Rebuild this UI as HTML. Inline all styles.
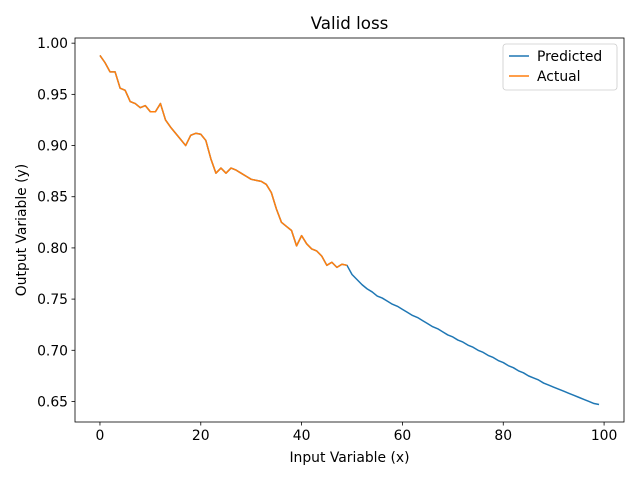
<!DOCTYPE html>
<html><head><meta charset="utf-8"><style>
body{margin:0;background:#fff}
svg text{font-family:"DejaVu Sans","Liberation Sans",sans-serif;fill:#000}
</style></head><body>
<svg id="chart" width="640" height="480">
<rect x="0" y="0" width="640" height="480" fill="#fff"/>
<text x="349.5" y="29" font-size="16.7" text-anchor="middle">Valid loss</text>
<g id="plot"></g>
<rect x="75" y="38" width="549" height="384" fill="none" stroke="#000" stroke-width="0.8"/>
<text x="349.5" y="462" font-size="13.9" text-anchor="middle">Input Variable (x)</text>
<text transform="translate(26,230) rotate(-90)" font-size="13.9" text-anchor="middle">Output Variable (y)</text>
<g>
<rect x="503" y="44" width="114" height="46" rx="3" fill="#fff" stroke="#ccc" stroke-width="0.8"/>
<line x1="509" y1="56" x2="529" y2="56" stroke="#1f77b4" stroke-width="1.5"/>
<text x="537" y="61" font-size="13.9">Predicted</text>
<line x1="509" y1="76" x2="529" y2="76" stroke="#ff7f0e" stroke-width="1.5"/>
<text x="537" y="81" font-size="13.9">Actual</text>
</g>
</svg>
<script>
const actual=[0.988,0.981,0.972,0.972,0.956,0.954,0.943,0.941,0.937,0.939,0.933,0.933,0.941,0.925,0.918,0.912,0.906,0.900,0.910,0.912,0.911,0.905,0.887,0.873,0.878,0.873,0.878,0.876,0.873,0.870,0.867,0.866,0.865,0.862,0.854,0.838,0.825,0.821,0.817,0.802,0.812,0.804,0.799,0.797,0.792,0.783,0.786,0.781,0.784,0.783];
const predictedTail=[0.774,0.769,0.764,0.760,0.757,0.753,0.751,0.748,0.745,0.743,0.740,0.737,0.734,0.732,0.729,0.726,0.723,0.721,0.718,0.715,0.713,0.710,0.708,0.705,0.703,0.700,0.698,0.695,0.693,0.690,0.688,0.685,0.683,0.680,0.678,0.675,0.673,0.671,0.668,0.666,0.664,0.662,0.660,0.658,0.656,0.654,0.652,0.650,0.648,0.647];
const predicted=actual.concat(predictedTail);
const xTicks=[0,20,40,60,80,100];
const yTicks=[0.65,0.70,0.75,0.80,0.85,0.90,0.95,1.00];
const NS="http://www.w3.org/2000/svg";
const xMin=-4.95,xMax=103.95;
const yMin=Math.min(...predicted),yMax=Math.max(...predicted);
const yLo=yMin-(yMax-yMin)*0.05,yHi=yMax+(yMax-yMin)*0.05;
const L=75,R=624,T=38,B=422;
const sx=v=>L+(v-xMin)/(xMax-xMin)*(R-L);
const sy=v=>B-(v-yLo)/(yHi-yLo)*(B-T);
const g=document.getElementById('plot');
function mk(t,a){const e=document.createElementNS(NS,t);for(const k in a)e.setAttribute(k,a[k]);g.appendChild(e);return e;}
xTicks.forEach(v=>{
 const l=mk('line',{x1:sx(v),x2:sx(v),y1:B,y2:B+3.5,stroke:'#000','stroke-width':0.8});
 
 
 const t=mk('text',{x:sx(v),y:B+18,'font-size':13.9,'text-anchor':'middle'});
 t.textContent=v;
 
 
});
yTicks.forEach(v=>{
 const l=mk('line',{x1:L-3.5,x2:L,y1:sy(v),y2:sy(v),stroke:'#000','stroke-width':0.8});
 
 
 const t=mk('text',{x:L-7,y:sy(v)+5,'font-size':13.9,'text-anchor':'end'});
 t.textContent=v.toFixed(2);
 
 
});
function line(arr,color,name){
 const p=mk('polyline',{points:arr.map((v,i)=>sx(i)+','+sy(v)).join(' '),fill:'none',stroke:color,'stroke-width':1.5,'stroke-linejoin':'round'});
 
 
}
line(predicted,'#1f77b4','predicted-line');
line(actual,'#ff7f0e','actual-line');
</script>
</body></html>
